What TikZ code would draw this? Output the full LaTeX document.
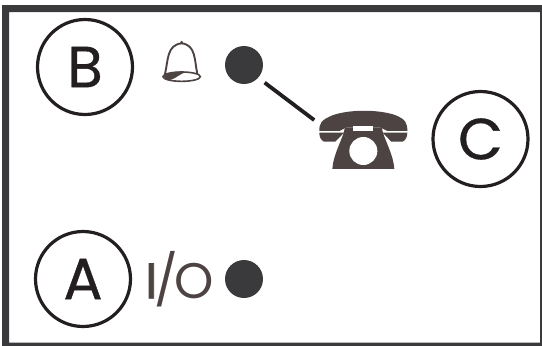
\documentclass[tikz,border=0pt]{standalone}
\usepackage{fontspec}
\setmainfont{Poppins}
\newfontfamily\heavyfont[FakeBold=0.6]{Poppins}
\newfontfamily\ioIfont[FakeBold=1.6]{Poppins}
\definecolor{framec}{HTML}{3A3A3C}
\definecolor{ringc}{HTML}{231F20}
\definecolor{brownc}{HTML}{4D4343}
\tikzset{
  ring/.style={circle,draw=ringc,line width=3.2pt,minimum size=95pt,inner sep=0pt,text=ringc,font=\heavyfont\fontsize{58}{58}\selectfont},
  dotnode/.style={circle,fill=framec,minimum size=38pt,inner sep=0pt},
  wire/.style={draw=ringc,line width=3.8pt},
  brownfill/.style={fill=brownc,draw=none},
  ghost/.style={inner sep=0pt,minimum width=92pt,minimum height=59pt}
}
\begin{document}
\begin{tikzpicture}[x=1pt,y=-1pt]
\useasboundingbox (0,0) rectangle (542,346);
\fill[framec,even odd rule] (2,5) rectangle (546,350) (9,12) rectangle (540,342.5);
\node[ring] (circA) at (83,279) {A};
\node[ring] (circB) at (85,67) {B};
\node[ring] (circC) at (480.5,139) {C};
\node[dotnode] (dotA) at (244,279) {};
\node[dotnode] (dotB) at (244,65) {};
\node[inner sep=0pt,text=brownc,font=\fontsize{50}{50}\selectfont] (io) at (179.5,279) {{\ioIfont I}\kern-3pt/\kern-4pt O};
\node[ghost] (phone) at (364,140.5) {};
\draw[wire,shorten <=8pt,shorten >=4.5pt] (dotB.-42) -- (phone.159);
% phone
\begin{scope}[shift={(300,90)},x=0.3333pt,y=-0.3333pt]
  \path[brownfill] (58,123) .. controls (58,100) and (62,90) .. (100,75)
    .. controls (150,58) and (235,58) .. (285,75)
    .. controls (318,88) and (322,100) .. (322,123)
    -- (262,123) -- (240,112) -- (140,112) -- (118,123) -- cycle;
  \path[brownfill] (58,128) -- (132,128) -- (106,155) -- (72,155) .. controls (62,150) and (58,140) .. (58,128) -- cycle;
  \path[brownfill] (322,128) -- (248,128) -- (274,155) -- (308,155) .. controls (318,150) and (322,140) .. (322,128) -- cycle;
  \path[brownfill] (135,112) -- (245,112) .. controls (252,150) and (280,190) .. (283,237)
    -- (97,237) .. controls (100,190) and (128,150) .. (135,112) -- cycle;
  \fill[white] (160,107) rectangle (220,122);
  \fill[white] (190,183) circle[radius=42];
\end{scope}
% bell
\begin{scope}[shift={(140,20)},x=0.3333pt,y=-0.3333pt]
  \draw[brownc,line width=1.9pt,fill=white] (75,162) .. controls (85,120) and (80,75) .. (125,70)
    .. controls (168,75) and (163,120) .. (172,162);
  \fill[brownc] (125,67) circle[radius=4.5];
  \draw[brownc,line width=1.6pt,fill=white] (125,170) ellipse[x radius=56,y radius=14];
  \fill[brownc] (72,170) .. controls (80,158) and (110,152) .. (140,156)
    .. controls (120,160) and (110,175) .. (90,180) .. controls (80,180) and (74,175) .. (72,170) -- cycle;
\end{scope}
\end{tikzpicture}
\end{document}
